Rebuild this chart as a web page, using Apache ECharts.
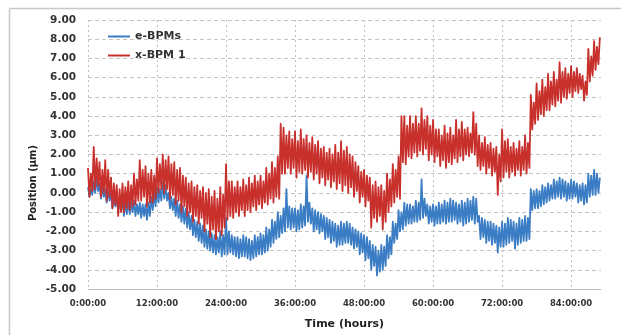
<!DOCTYPE html>
<html>
<head>
<meta charset="utf-8">
<script src="https://cdn.jsdelivr.net/npm/echarts@6/dist/echarts.min.js"></script>
<style>
html,body{margin:0;padding:0;background:#fff;}
#c{width:621px;height:335px;}
</style>
</head>
<body>
<div id="c"></div>
<script>
// sample step (hours) between consecutive readings
const STEP_HOURS = 0.25;
const xTickLabels = ['0:00:00','12:00:00','24:00:00','36:00:00','48:00:00','60:00:00','72:00:00','84:00:00'];
const seriesNames = ['e-BPMs', 'x-BPM 1'];

// e-BPMs position (µm), one reading every 0.25 h from 0 h (4 per group = 1 hour)
const eBPMs = [
  0.3,-0.2,0.2,-0.1, 0.6,0.0,0.8,0.1, 0.5,-0.3,0.3,-0.2, 0.2,-0.5,0.1,-0.4, 0.0,-0.8,-0.1,-0.7, -0.2,-1.0,-0.3,-0.9,
  -0.3,-1.2,-0.4,-1.1, -0.4,-1.1,-0.5,-1.0, -0.4,-1.2,-0.6,-1.1, -0.5,-1.3,-0.6,-1.2, -0.6,-1.4,-0.5,-1.2, -0.2,-0.9,0.0,-0.7,
  0.3,-0.5,0.2,-0.4, 0.6,-0.3,0.4,-0.4, 0.0,-0.8,-0.2,-0.9, -0.3,-1.2,-0.4,-1.3, -0.6,-1.5,-0.7,-1.6, -0.8,-1.8,-1.0,-1.9,
  -1.2,-2.2,-1.4,-2.3, -1.5,-2.5,-1.6,-2.6, -1.7,-2.8,-1.9,-2.9, -2.0,-3.0,-2.1,-3.1, -2.2,-3.2,-2.3,-3.1, -2.0,-3.3,-2.2,-3.2,
  -1.3,-3.2,-2.0,-3.1, -2.2,-3.2,-2.3,-3.3, -2.3,-3.4,-2.4,-3.3, -2.2,-3.3,-2.3,-3.4, -2.4,-3.5,-2.5,-3.4, -2.2,-3.3,-2.3,-3.2,
  -2.1,-3.2,-2.2,-3.1, -1.8,-3.0,-1.9,-2.8, -1.4,-2.6,-1.5,-2.4, -1.0,-2.3,-1.2,-2.1, -0.8,-2.0,0.2,-1.8, -0.7,-1.9,-0.8,-1.8,
  -0.8,-2.0,-0.9,-1.9, -0.6,-1.8,-0.7,-1.7, 0.9,-1.5,-0.5,-1.6, -0.8,-2.0,-0.9,-1.9, -1.0,-2.1,-1.1,-2.0, -1.2,-2.4,-1.3,-2.3,
  -1.4,-2.6,-1.5,-2.5, -1.6,-2.8,-1.7,-2.7, -1.5,-2.7,-1.6,-2.6, -1.5,-2.6,-1.6,-2.7, -1.8,-2.9,-1.9,-2.8, -2.0,-3.2,-2.1,-3.1,
  -2.2,-3.5,-2.3,-3.4, -2.5,-4.0,-2.7,-3.8, -2.8,-4.3,-3.0,-4.1, -2.7,-4.0,-2.8,-3.8, -2.2,-3.4,-2.3,-3.2, -1.5,-2.6,-1.6,-2.4,
  -0.9,-2.0,-1.0,-1.9, -0.5,-1.7,-0.6,-1.6, -0.6,-1.6,-0.7,-1.5, -0.4,-1.5,-0.5,-1.4, 0.7,-1.3,-0.3,-1.2, -0.6,-1.6,-0.7,-1.5,
  -0.6,-1.7,-0.7,-1.6, -0.5,-1.6,-0.6,-1.5, -0.4,-1.6,-0.5,-1.5, -0.3,-1.5,-0.4,-1.4, -0.5,-1.6,-0.6,-1.5, -0.4,-1.7,-0.5,-1.6,
  -0.3,-1.5,-0.4,-1.4, -0.2,-1.6,-0.3,-1.5, -1.2,-2.4,-1.3,-2.3, -1.4,-2.6,-1.5,-2.5, -1.5,-2.7,-1.6,-2.6, -1.7,-3.1,-1.8,-2.8,
  -1.5,-2.8,-1.6,-2.7, -1.3,-2.6,-1.4,-2.5, -1.5,-2.9,-1.6,-2.7, -1.3,-2.6,-1.4,-2.5, -1.2,-2.5,-1.3,-2.4, 0.2,-0.9,0.1,-0.8,
  0.2,-0.8,0.1,-0.7, 0.4,-0.6,0.3,-0.5, 0.5,-0.4,0.4,-0.3, 0.7,-0.3,0.6,-0.2, 0.8,-0.3,0.7,-0.2, 0.6,-0.4,0.5,-0.3,
  0.7,-0.3,0.6,-0.2, 0.5,-0.5,0.4,-0.4, 0.5,-0.6,0.4,-0.5, 1.0,-0.2,0.9,-0.1, 1.2,-0.1,1.0,0.0, 0.8
];

// x-BPM 1 position (µm), one reading every 0.25 h from 0 h
const xBPM1 = [
  1.3,-0.2,1.0,0.1, 2.4,0.2,1.8,0.4, 1.6,-0.2,1.2,0.0, 1.7,-0.4,1.2,-0.2, 0.8,-0.8,0.5,-0.6, 0.4,-1.2,0.2,-1.0,
  0.5,-1.0,0.3,-0.8, 0.6,-0.9,0.4,-0.7, 1.0,-0.6,0.7,-0.4, 1.7,-0.4,1.2,-0.2, 1.4,-0.7,1.0,-0.5, 1.2,-0.5,0.9,-0.3,
  1.8,0.0,1.5,0.2, 2.0,0.0,1.7,0.2, 1.9,-0.3,1.5,-0.1, 1.6,-0.6,1.2,-0.4, 1.3,-1.0,0.9,-0.7, 0.8,-1.2,0.5,-1.0,
  0.6,-1.5,0.3,-1.2, 0.4,-1.6,0.1,-1.3, 0.3,-2.0,0.0,-1.6, 0.2,-2.3,-0.2,-1.9, 0.1,-2.4,-0.3,-2.0, 0.3,-2.2,-0.1,-1.8,
  1.5,-1.4,0.6,-1.2, 0.6,-1.3,0.3,-1.0, 0.6,-1.2,0.3,-0.9, 0.7,-1.2,0.4,-0.9, 0.8,-1.0,0.5,-0.7, 0.9,-0.9,0.6,-0.6,
  0.9,-0.8,0.6,-0.5, 1.3,-0.6,1.0,-0.3, 1.6,-0.5,1.3,-0.2, 1.9,-0.3,3.6,1.0, 3.4,1.0,3.0,1.3, 3.2,1.0,2.8,1.3,
  3.2,0.8,2.7,1.1, 3.3,1.0,2.8,1.2, 3.0,0.8,2.6,1.1, 2.9,0.7,2.5,1.0, 2.7,0.5,2.3,0.8, 2.4,0.4,2.1,0.7,
  2.3,0.3,2.0,0.6, 2.5,0.2,2.1,0.5, 2.7,0.1,2.2,0.4, 2.4,0.0,2.0,0.3, 1.9,-0.2,1.6,0.1, 1.4,-0.5,1.1,-0.2,
  1.2,-0.7,0.9,-0.4, 0.8,-1.8,0.4,-1.3, 0.6,-1.5,0.3,-1.2, 0.4,-1.9,0.1,-1.5, 1.0,-1.0,0.7,-0.7, 1.5,-0.5,1.2,-0.2,
  1.9,-0.3,4.0,1.6, 4.0,1.5,3.5,1.9, 4.0,1.8,3.6,2.1, 4.0,1.9,3.6,2.2, 4.4,2.0,3.8,2.3, 4.0,1.7,3.5,2.0,
  3.8,1.6,3.3,1.9, 3.3,1.4,3.0,1.7, 3.5,1.3,3.1,1.6, 3.4,1.5,3.0,1.8, 3.8,1.6,3.3,1.9, 3.7,1.7,3.3,2.0,
  3.4,1.9,3.1,2.1, 4.2,2.0,3.6,1.4, 3.0,1.2,2.6,1.4, 2.9,1.0,2.5,1.3, 2.6,0.9,2.3,1.1, 2.4,-0.1,2.0,0.6,
  3.3,0.8,2.7,1.1, 2.8,0.8,2.4,1.1, 2.6,0.9,2.3,1.2, 2.7,0.9,2.4,1.2, 3.0,1.0,2.6,1.3, 5.1,3.3,4.7,3.6,
  5.7,3.8,5.3,4.1, 5.9,4.0,5.5,4.3, 6.2,4.3,5.8,4.6, 6.3,4.5,5.9,4.8, 6.8,4.7,6.3,5.0, 6.5,4.9,6.2,5.2,
  6.6,5.0,6.3,5.3, 6.5,5.2,6.2,5.4, 6.1,4.8,5.8,5.1, 7.5,5.8,7.1,6.1, 7.9,6.4,7.6,6.7, 8.1
];

const colors = ['#3b7dc4', '#c8302c'];
const toPairs = arr => arr.map((v, i) => [i * STEP_HOURS, v]);
const boldFont = 'DejaVu Sans';

const chart = echarts.init(document.getElementById('c'), null, {renderer: 'canvas'});
chart.setOption({
  animation: false,
  backgroundColor: '#ffffff',
  grid: {left: 88, right: 20, top: 20, bottom: 42, containLabel: false},
  legend: {
    orient: 'vertical', left: 103, top: 26, itemWidth: 22, itemHeight: 2, itemGap: 8,
    icon: 'rect',
    data: seriesNames,
    textStyle: {fontFamily: boldFont, fontWeight: 'bold', fontSize: 11, color: '#333'}
  },
  xAxis: {
    type: 'value', min: 0, max: 89.2, interval: 12,
    name: 'Time (hours)', nameLocation: 'middle', nameGap: 30,
    nameTextStyle: {fontFamily: boldFont, fontWeight: 'bold', fontSize: 11, color: '#222'},
    axisLine: {show: true, onZero: false, lineStyle: {color: '#bdbdbd', width: 1}},
    axisTick: {show: false},
    axisLabel: {
      fontFamily: boldFont, fontWeight: 'bold', fontSize: 8.5, color: '#333', margin: 10,
      showMaxLabel: false,
      formatter: v => (v % 12 === 0 ? xTickLabels[v / 12] : '')
    },
    splitLine: {show: true, showMaxLine: false, lineStyle: {color: '#bdbdbd', type: [2, 3], width: 1}}
  },
  yAxis: {
    type: 'value', min: -5, max: 9, interval: 1,
    axisLine: {show: false},
    axisTick: {show: false},
    axisLabel: {
      fontFamily: boldFont, fontWeight: 'bold', fontSize: 10.5, color: '#333', margin: 12,
      formatter: v => v.toFixed(2)
    },
    splitLine: {show: true, showMinLine: false, lineStyle: {color: '#c4c4c4', type: [4, 3], width: 1}}
  },
  graphic: [
    {type: 'line', shape: {x1: 9.5, y1: 8.5, x2: 621, y2: 8.5}, style: {stroke: '#c8c8c8', lineWidth: 1.5}, silent: true},
    {type: 'line', shape: {x1: 9.5, y1: 8.5, x2: 9.5, y2: 335}, style: {stroke: '#c8c8c8', lineWidth: 1.5}, silent: true},
    {type: 'text', x: 33, y: 183, rotation: Math.PI / 2,
     style: {text: 'Position (μm)', fontFamily: boldFont, fontWeight: 'bold', fontSize: 10, fill: '#222',
             textAlign: 'center', textVerticalAlign: 'middle'}, silent: true}
  ],
  series: [
    {name: seriesNames[0], type: 'line', data: toPairs(eBPMs), showSymbol: false, color: colors[0],
     lineStyle: {width: 1.8, color: colors[0], join: 'round'}},
    {name: seriesNames[1], type: 'line', data: toPairs(xBPM1), showSymbol: false, color: colors[1],
     lineStyle: {width: 1.8, color: colors[1], join: 'round'}}
  ]
});
</script>
</body>
</html>
